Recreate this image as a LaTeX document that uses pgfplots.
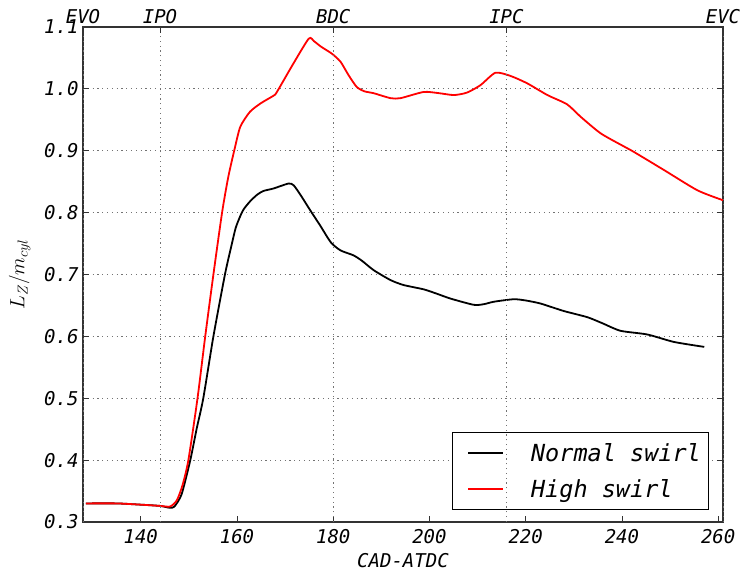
\documentclass[border=0pt]{standalone}
\usepackage{pgfplots}
\pgfplotsset{compat=1.18}
\usepackage{fontspec}
\setmainfont{DejaVu Sans Mono}[ItalicFont={DejaVu Sans Mono Oblique}]
\begin{document}
\begin{tikzpicture}
\pgfplotsset{
  every axis/.append style={
    scale only axis, width=640bp, height=495bp,
    xmin=128, xmax=261, ymin=0.3, ymax=1.1,
    axis line style={black!80, line width=1.2bp},
    tick style={black!80, line width=0.9bp},
    major tick length=6bp,
    tick align=inside,
    /pgf/number format/assume math mode=true,
    ticklabel style={font=\fontsize{19bp}{22bp}\selectfont\itshape},
  }
}
\begin{axis}[
  xtick={140,160,...,260}, xtick pos=bottom,
  ytick={0.3,0.4,...,1.1}, ytick pos=both,
  y tick label style={/pgf/number format/fixed, /pgf/number format/fixed zerofill, /pgf/number format/precision=1},
  ymajorgrids,
  grid style={black!55, line width=0.8bp, dash pattern=on 1.2bp off 3.6bp},
  xticklabel style={yshift=-4bp},
  yticklabel style={xshift=-1bp},
  xlabel={CAD-ATDC},
  xlabel style={font=\fontsize{19bp}{22bp}\selectfont\itshape, yshift=-3bp},
  ylabel={$L_Z/m_{cyl}$},
  ylabel style={font=\fontsize{22bp}{26bp}\selectfont, yshift=7bp},
  legend style={at={(rel axis cs:0.978,0.0242)}, anchor=south east,
    draw=black, line width=0.9bp, inner xsep=7.6bp, inner ysep=9bp,
    font=\fontsize{23.5bp}{28bp}\selectfont\itshape,
    row sep=12bp, column sep=0bp,
    nodes={inner xsep=0bp, inner ysep=2bp}},
  legend cell align=left,
  legend image code/.code={\path[draw=none] (0bp,0bp) -- (71bp,0bp);\draw[#1, line width=1.8bp] (8.4bp,0bp) -- (43.4bp,0bp);},
]
\coordinate (SW) at (rel axis cs:0,0);
\coordinate (NE) at (rel axis cs:1,1);
\addplot[black, line width=1.8bp, smooth, tension=0.4] coordinates {
(128.6,0.330) (135,0.330) (140,0.328) (144,0.326) (146,0.323) (147,0.325)
(148.5,0.345) (150.3,0.400) (151.6,0.450) (153.0,0.500) (155.1,0.600)
(157.5,0.700) (158.8,0.745) (159.8,0.777) (161.2,0.803) (162.7,0.818) (164.2,0.829) (165.5,0.835)
(167.6,0.839) (170.7,0.847) (171.8,0.844) (173.5,0.825) (175.2,0.804)
(177.3,0.779) (179.5,0.752) (181.5,0.739) (184.2,0.731) (186,0.722)
(188.4,0.707) (191.9,0.691) (194.6,0.683) (198.8,0.676) (201.5,0.669)
(204.4,0.661) (209.2,0.651) (211.3,0.652) (213.4,0.656) (217.5,0.660)
(220,0.658) (223.1,0.653) (227.9,0.641) (232.8,0.631) (236,0.621)
(239.7,0.609) (245.3,0.603) (250.8,0.591) (257.1,0.583)
};
\addlegendentry{Normal swirl}
\addplot[red, line width=1.8bp, smooth, tension=0.4] coordinates {
(128.6,0.330) (135,0.330) (140,0.328) (144,0.326) (146.1,0.325) (147.5,0.335)
(148.7,0.360) (149.9,0.400) (151.8,0.500) (153.4,0.600) (155.1,0.700)
(156.9,0.800) (158.2,0.858) (159.6,0.906) (160.7,0.939) (162.7,0.963)
(165,0.977) (167.6,0.989) (168.3,0.995) (171.5,1.038) (174.9,1.081)
(176,1.077) (177.5,1.068) (179.7,1.057) (181.5,1.044) (183.2,1.022)
(184.9,1.003) (186.5,0.996) (188.4,0.993) (191.9,0.985) (194,0.985)
(198.8,0.995) (202,0.993) (205.1,0.990) (207.8,0.994) (210.6,1.006)
(213.7,1.026) (216.8,1.021) (220.3,1.009) (224.5,0.990) (228.6,0.975)
(231.4,0.955) (235.6,0.928) (240.4,0.907) (242.5,0.898) (248.7,0.869)
(255.7,0.836) (261,0.820)
};
\addlegendentry{High swirl}
\end{axis}
\begin{axis}[
  xtick={128,144,180,216,261},
  xticklabels={EVO,IPO,BDC,IPC,EVC},
  xticklabel pos=upper, xtick pos=top,
  xmajorgrids,
  grid style={black!55, line width=0.8bp, dash pattern=on 1.2bp off 3.6bp},
  ytick=\empty,
  axis line style={draw=none},
]
\end{axis}
\pgfresetboundingbox
\path ([xshift=-83bp,yshift=-49bp]SW) rectangle ([xshift=17bp,yshift=27bp]NE);
\end{tikzpicture}
\end{document}
